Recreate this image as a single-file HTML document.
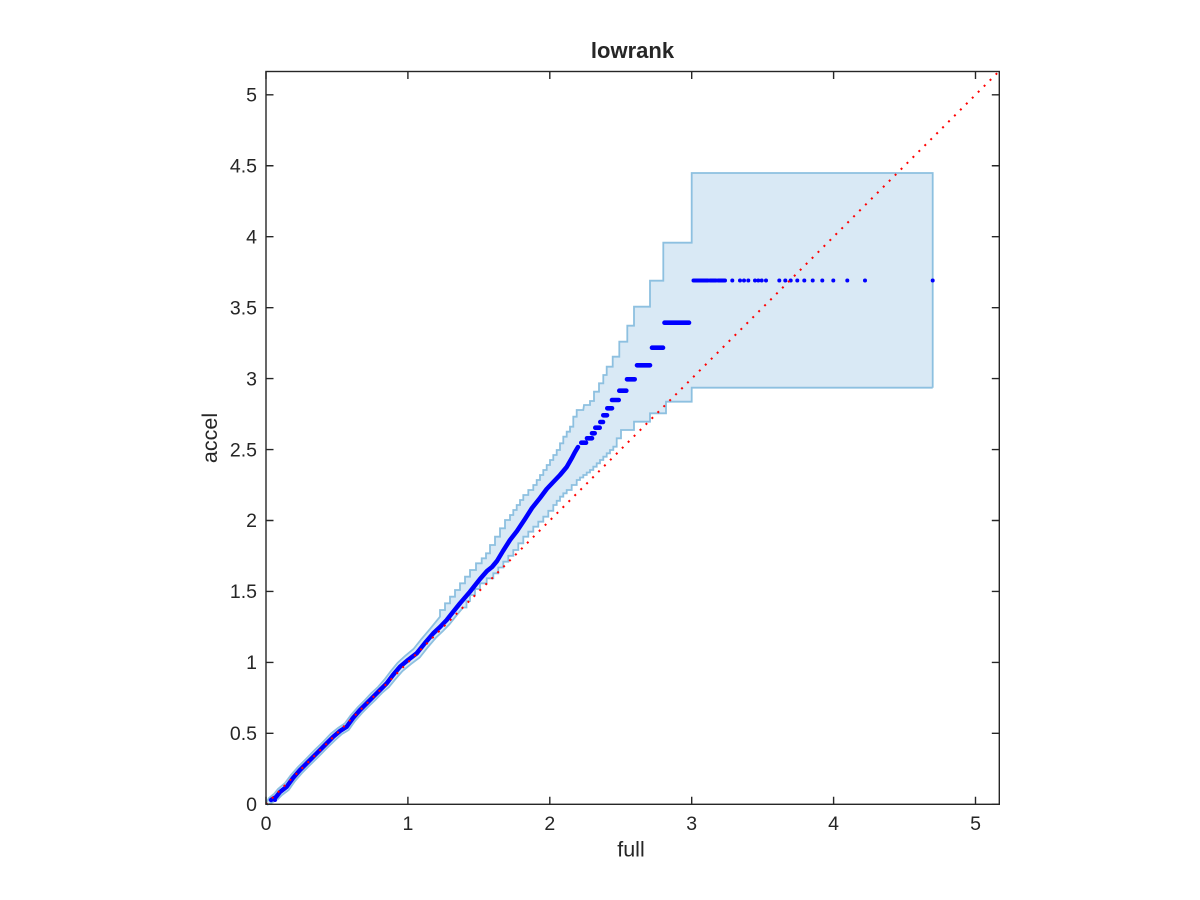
<!DOCTYPE html>
<html>
<head>
<meta charset="utf-8">
<style>
html,body{margin:0;padding:0;background:#fff;}
svg{display:block;}
text{font-family:"Liberation Sans",Arial,sans-serif;fill:#262626;}
</style>
</head>
<body>
<svg width="1200" height="900" viewBox="0 0 1200 900" xmlns="http://www.w3.org/2000/svg">
<rect x="0" y="0" width="1200" height="900" fill="#ffffff"/>

<!-- band fill -->
<polygon fill="#d9e9f5" stroke="none" points="
266,803 269,798 274,794 278,789 285,783 291,775 298,767 306,759 314.7,750 323,742 331,733.5 338,728 344.7,723.5 351,715 358,707 365,700 371,693.5 378,687 384.5,679.5 390.5,671.5 397.5,663 405,656 413.5,649 421.5,639 430,629 440,616.7
440,610 445,610 445,603.3 450,603.3 450,596.7 455,596.7 455,590 460,590 460,583.3 465,583.3 465,576.7 470,576.7 470,570 476,570 476,563.3 481.7,563.3 481.7,558.3 486,558.3 486,553.3 490,553.3 490,545 495,545 495,536.7 500,536.7 500,528.3 505,528.3 505,520 510,520 510,515 513.3,515 513.3,510 516.7,510 516.7,505 520,505 520,500 523.3,500 523.3,495 528.3,495 528.3,490 533.3,490 533.3,485 536.7,485 536.7,480 540,480 540,475 543.3,475 543.3,470 546.7,470 546.7,465 550,465 550,460 553.3,460 553.3,455 556.7,455 556.7,450 560,450 560,443.3 563.3,443.3 563.3,436.7 566.7,436.7 566.7,431.7 570,431.7 570,426.7 573.3,426.7 573.3,416.7 576.7,416.7 576.7,410 583.3,410
584,405 590,405 590,401 594,401 594,391.7 599,391.7 599,383.3 603.3,383.3 603.3,375 606.7,375 606.7,366.7 612.7,366.7 612.7,356.7 619.3,356.7 619.3,341.7 627.3,341.7 627.3,325.7 634,325.7 634,306.7 650,306.7 650,280.7 663.3,280.7 663.3,242.7 691.7,242.7 691.7,173 932.7,173
932.7,387.7 691.7,387.7 691.7,401.7 666,401.7 666,413.3 650,413.3 650,421.7 634,421.7 634,430 621,430 621,438.3 616.7,438.3 616.7,446.7 613.3,446.7 613.3,450 610,450 610,453.3 606.7,453.3 606.7,456.7 603.3,456.7 603.3,460 600,460 600,463.3 596.7,463.3 596.7,466.7 593.3,466.7 593.3,470 590,470 590,472.5 586.7,472.5 586.7,475 583.3,475 583.3,477.5 580,477.5 580,480 576.7,480 576.7,485 571.7,485 571.7,490 566.7,490 566.7,493.3 563.3,493.3 563.3,496.7 560,496.7 560,500.8 556.7,500.8 556.7,505 553.3,505 553.3,510.8 548.3,510.8 548.3,516.7 543.3,516.7 543.3,521.7 538.3,521.7 538.3,526.7 533.3,526.7 533.3,531.7 528.3,531.7 528.3,536.7 523.3,536.7 523.3,543.3 518.3,543.3 518.3,550 513.3,550 513.3,555.8 508.3,555.8 508.3,561.7 503.3,561.7 503.3,567.5 498.3,567.5 498.3,573.3 493.3,573.3 493.3,578.3 486.7,578.3 486.7,583.3 480,583.3 480,589 475,589 475,595 470,595 470,601 466.5,601 466.5,607.5 463,607.5 456,616 449.7,624 443,631 436.3,637.3 428,647 419.7,657.5 411,664 402.5,671 395.5,679 389,687 382,693 375.3,700 369,706 362,713 355,721 348.7,730 342,734 335.3,740 327,748 318.7,756.5 310,765 302,773 295,781 288.7,790 282,795 278,799 273,802 267,805"/>

<!-- band edges -->
<polyline fill="none" stroke="#8dc0e0" stroke-width="1.8" stroke-linejoin="miter" points="
266,803 269,798 274,794 278,789 285,783 291,775 298,767 306,759 314.7,750 323,742 331,733.5 338,728 344.7,723.5 351,715 358,707 365,700 371,693.5 378,687 384.5,679.5 390.5,671.5 397.5,663 405,656 413.5,649 421.5,639 430,629 440,616.7
440,610 445,610 445,603.3 450,603.3 450,596.7 455,596.7 455,590 460,590 460,583.3 465,583.3 465,576.7 470,576.7 470,570 476,570 476,563.3 481.7,563.3 481.7,558.3 486,558.3 486,553.3 490,553.3 490,545 495,545 495,536.7 500,536.7 500,528.3 505,528.3 505,520 510,520 510,515 513.3,515 513.3,510 516.7,510 516.7,505 520,505 520,500 523.3,500 523.3,495 528.3,495 528.3,490 533.3,490 533.3,485 536.7,485 536.7,480 540,480 540,475 543.3,475 543.3,470 546.7,470 546.7,465 550,465 550,460 553.3,460 553.3,455 556.7,455 556.7,450 560,450 560,443.3 563.3,443.3 563.3,436.7 566.7,436.7 566.7,431.7 570,431.7 570,426.7 573.3,426.7 573.3,416.7 576.7,416.7 576.7,410 583.3,410
584,405 590,405 590,401 594,401 594,391.7 599,391.7 599,383.3 603.3,383.3 603.3,375 606.7,375 606.7,366.7 612.7,366.7 612.7,356.7 619.3,356.7 619.3,341.7 627.3,341.7 627.3,325.7 634,325.7 634,306.7 650,306.7 650,280.7 663.3,280.7 663.3,242.7 691.7,242.7 691.7,173 932.7,173 932.7,387.7"/>
<polyline fill="none" stroke="#8dc0e0" stroke-width="1.8" stroke-linejoin="miter" points="
932.7,387.7 691.7,387.7 691.7,401.7 666,401.7 666,413.3 650,413.3 650,421.7 634,421.7 634,430 621,430 621,438.3 616.7,438.3 616.7,446.7 613.3,446.7 613.3,450 610,450 610,453.3 606.7,453.3 606.7,456.7 603.3,456.7 603.3,460 600,460 600,463.3 596.7,463.3 596.7,466.7 593.3,466.7 593.3,470 590,470 590,472.5 586.7,472.5 586.7,475 583.3,475 583.3,477.5 580,477.5 580,480 576.7,480 576.7,485 571.7,485 571.7,490 566.7,490 566.7,493.3 563.3,493.3 563.3,496.7 560,496.7 560,500.8 556.7,500.8 556.7,505 553.3,505 553.3,510.8 548.3,510.8 548.3,516.7 543.3,516.7 543.3,521.7 538.3,521.7 538.3,526.7 533.3,526.7 533.3,531.7 528.3,531.7 528.3,536.7 523.3,536.7 523.3,543.3 518.3,543.3 518.3,550 513.3,550 513.3,555.8 508.3,555.8 508.3,561.7 503.3,561.7 503.3,567.5 498.3,567.5 498.3,573.3 493.3,573.3 493.3,578.3 486.7,578.3 486.7,583.3 480,583.3 480,589 475,589 475,595 470,595 470,601 466.5,601 466.5,607.5 463,607.5 456,616 449.7,624 443,631 436.3,637.3 428,647 419.7,657.5 411,664 402.5,671 395.5,679 389,687 382,693 375.3,700 369,706 362,713 355,721 348.7,730 342,734 335.3,740 327,748 318.7,756.5 310,765 302,773 295,781 288.7,790 282,795 278,799 273,802 267,805"/>

<!-- blue mean series -->
<g stroke="#0000ff" fill="none" stroke-linecap="round" stroke-linejoin="round">
<polyline stroke-width="4.5" points="
271,800 276,797 280,792 286.7,786.7 293,778 300,770 308,762 316.7,753.3 325,745 333.3,736.7 340,731 346.7,726.7 353,718 360,710 367,703 373.3,696.7 380,690 386.7,683.3 393,675 400,666.7 408,660 416.7,653.3 425,643 433.3,633.3 440,627 446.7,620 453,612 460,603.3 470,591.7 480,579 487,571 492,567 497,561 503,551 510,540 517,531 525,519 532,508 540,498 546.7,489 553.3,482 560,475 566.7,467 571.7,458.3 575,452 578,447"/>
<g stroke-width="4.6">
<line x1="581.3" y1="442.7" x2="586" y2="442.7"/>
<line x1="587" y1="438.3" x2="592" y2="438.3"/>
<line x1="592" y1="433.3" x2="594.7" y2="433.3"/>
<line x1="595.3" y1="427.7" x2="599.7" y2="427.7"/>
<line x1="600.3" y1="422" x2="603" y2="422"/>
<line x1="603.3" y1="415.3" x2="607" y2="415.3"/>
<line x1="607.3" y1="408.3" x2="612" y2="408.3"/>
<line x1="612" y1="400" x2="618.7" y2="400"/>
<line x1="619.3" y1="390.7" x2="626.3" y2="390.7"/>
<line x1="627" y1="379.3" x2="634.7" y2="379.3"/>
<line x1="637" y1="365.3" x2="650" y2="365.3"/>
<line x1="652" y1="347.7" x2="663" y2="347.7"/>
<line x1="664.5" y1="322.7" x2="689" y2="322.7"/>
</g>
<g stroke-width="4">
<line x1="693.5" y1="280.5" x2="708" y2="280.5"/>
<line x1="710" y1="280.5" x2="716" y2="280.5"/>
<line x1="718" y1="280.5" x2="725" y2="280.5"/>
</g>
</g>
<g fill="#0000ff">
<circle cx="275" cy="800" r="2"/>
<circle cx="732.3" cy="280.5" r="2"/>
<circle cx="740" cy="280.5" r="2"/>
<circle cx="744" cy="280.5" r="2"/>
<circle cx="748.3" cy="280.5" r="2"/>
<circle cx="755" cy="280.5" r="2"/>
<circle cx="758.3" cy="280.5" r="2"/>
<circle cx="761.7" cy="280.5" r="2"/>
<circle cx="766" cy="280.5" r="2"/>
<circle cx="779.3" cy="280.5" r="2"/>
<circle cx="785.3" cy="280.5" r="2"/>
<circle cx="790.7" cy="280.5" r="2"/>
<circle cx="797.3" cy="280.5" r="2"/>
<circle cx="804.3" cy="280.5" r="2"/>
<circle cx="812.7" cy="280.5" r="2"/>
<circle cx="822.3" cy="280.5" r="2"/>
<circle cx="833.3" cy="280.5" r="2"/>
<circle cx="847.3" cy="280.5" r="2"/>
<circle cx="865" cy="280.5" r="2"/>
<circle cx="932.7" cy="280.5" r="2"/>
</g>

<!-- red dotted diagonal -->
<line x1="266" y1="804.3" x2="999.3" y2="71" stroke="#ff0000" stroke-width="2" stroke-dasharray="2 6.39"/>

<!-- axes box -->
<g stroke="#262626" stroke-width="1.4" fill="none">
<rect x="266" y="71.5" width="733.3" height="732.8"/>
<path d="M266,804.3v-7.5 M407.9,804.3v-7.5 M549.8,804.3v-7.5 M691.7,804.3v-7.5 M833.6,804.3v-7.5 M975.5,804.3v-7.5
M266,71.5v7.5 M407.9,71.5v7.5 M549.8,71.5v7.5 M691.7,71.5v7.5 M833.6,71.5v7.5 M975.5,71.5v7.5"/>
<path d="M266,804.3h7.5 M266,733.35h7.5 M266,662.4h7.5 M266,591.45h7.5 M266,520.5h7.5 M266,449.55h7.5 M266,378.6h7.5 M266,307.65h7.5 M266,236.7h7.5 M266,165.75h7.5 M266,94.8h7.5
M999.3,804.3h-7.5 M999.3,733.35h-7.5 M999.3,662.4h-7.5 M999.3,591.45h-7.5 M999.3,520.5h-7.5 M999.3,449.55h-7.5 M999.3,378.6h-7.5 M999.3,307.65h-7.5 M999.3,236.7h-7.5 M999.3,165.75h-7.5 M999.3,94.8h-7.5"/>
</g>

<!-- x tick labels -->
<g font-size="19.5" text-anchor="middle">
<text x="266" y="830">0</text>
<text x="407.9" y="830">1</text>
<text x="549.8" y="830">2</text>
<text x="691.7" y="830">3</text>
<text x="833.6" y="830">4</text>
<text x="975.5" y="830">5</text>
</g>
<!-- y tick labels -->
<g font-size="19.5" text-anchor="end">
<text x="257" y="811">0</text>
<text x="257" y="740">0.5</text>
<text x="257" y="669.1">1</text>
<text x="257" y="598.2">1.5</text>
<text x="257" y="527.2">2</text>
<text x="257" y="456.3">2.5</text>
<text x="257" y="385.3">3</text>
<text x="257" y="314.4">3.5</text>
<text x="257" y="243.4">4</text>
<text x="257" y="172.5">4.5</text>
<text x="257" y="101.5">5</text>
</g>

<!-- labels -->
<text x="631" y="856.5" font-size="21.5" text-anchor="middle">full</text>
<text transform="translate(217,438) rotate(-90)" font-size="21.5" text-anchor="middle">accel</text>
<text x="632.5" y="58" font-size="22" font-weight="bold" text-anchor="middle" fill="#000">lowrank</text>
</svg>
</body>
</html>
